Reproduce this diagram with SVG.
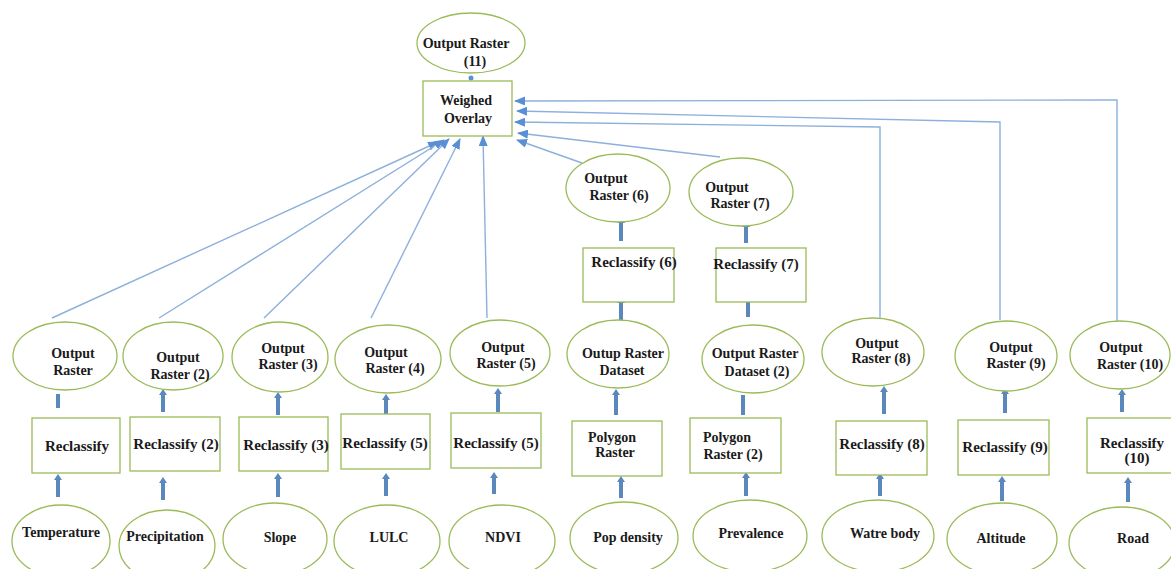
<svg xmlns="http://www.w3.org/2000/svg" width="1171" height="569" viewBox="0 0 1171 569">
<defs>
<style>
.n{fill:#ffffff;stroke:#9bbb59;stroke-width:1.3}
.t{font-family:"Liberation Serif","Times New Roman",serif;font-weight:bold;font-size:14px;fill:#1a1a1a;text-anchor:middle}
.r{font-size:15px}
.c{fill:none;stroke:#8cb0dc;stroke-width:1.4}
.a{stroke:#5b88bc;stroke-width:4;fill:none}
</style>
<marker id="ah" markerUnits="userSpaceOnUse" markerWidth="11" markerHeight="9" refX="10" refY="4.5" orient="auto" viewBox="0 0 11 9">
<path d="M0,0 L11,4.5 L0,9 z" fill="#5b8fd3"/>
</marker>
<marker id="sh" markerUnits="userSpaceOnUse" markerWidth="6" markerHeight="8" refX="2" refY="4" orient="auto" viewBox="0 0 6 8">
<path d="M0,0 L6,4 L0,8 z" fill="#5b88bc"/>
</marker>
</defs>
<rect width="1171" height="569" fill="#ffffff"/>

<g id="connectors">
<line class="c" x1="52" y1="318" x2="438" y2="142" marker-end="url(#ah)"/>
<line class="c" x1="159" y1="318" x2="444" y2="140" marker-end="url(#ah)"/>
<line class="c" x1="264" y1="318" x2="449" y2="139" marker-end="url(#ah)"/>
<line class="c" x1="371" y1="318" x2="460" y2="139" marker-end="url(#ah)"/>
<line class="c" x1="487" y1="318" x2="483" y2="136" marker-end="url(#ah)"/>
<line class="c" x1="582" y1="163" x2="517" y2="140" marker-end="url(#ah)"/>
<line class="c" x1="720" y1="157" x2="518" y2="133" marker-end="url(#ah)"/>
<polyline class="c" points="880,320 880,127 515,122" marker-end="url(#ah)"/>
<polyline class="c" points="1000,320 1000,122 517,111" marker-end="url(#ah)"/>
<polyline class="c" points="1117,322 1117,100 515,101" marker-end="url(#ah)"/>
<circle cx="471" cy="78" r="2.5" fill="#5b8fd3"/>
<line class="a" x1="58" y1="408" x2="58" y2="394"/>
<line class="a" x1="163" y1="412" x2="163" y2="393" marker-end="url(#sh)"/>
<line class="a" x1="278" y1="415" x2="278" y2="396" marker-end="url(#sh)"/>
<line class="a" x1="386" y1="418" x2="386" y2="398" marker-end="url(#sh)"/>
<line class="a" x1="498" y1="412" x2="498" y2="392" marker-end="url(#sh)"/>
<line class="a" x1="616" y1="415" x2="616" y2="393" marker-end="url(#sh)"/>
<line class="a" x1="743" y1="415" x2="743" y2="395"/>
<line class="a" x1="884" y1="414" x2="884" y2="390" marker-end="url(#sh)"/>
<line class="a" x1="1005" y1="413" x2="1005" y2="392" marker-end="url(#sh)"/>
<line class="a" x1="1122" y1="412" x2="1122" y2="393" marker-end="url(#sh)"/>
<line class="a" x1="58" y1="497" x2="58" y2="478" marker-end="url(#sh)"/>
<line class="a" x1="163" y1="500" x2="163" y2="481" marker-end="url(#sh)"/>
<line class="a" x1="278" y1="497" x2="278" y2="477" marker-end="url(#sh)"/>
<line class="a" x1="386" y1="496" x2="386" y2="477" marker-end="url(#sh)"/>
<line class="a" x1="494" y1="494" x2="494" y2="476" marker-end="url(#sh)"/>
<line class="a" x1="621" y1="498" x2="621" y2="480" marker-end="url(#sh)"/>
<line class="a" x1="746" y1="496" x2="746" y2="476" marker-end="url(#sh)"/>
<line class="a" x1="880" y1="496" x2="880" y2="477" marker-end="url(#sh)"/>
<line class="a" x1="1002" y1="501" x2="1002" y2="480" marker-end="url(#sh)"/>
<line class="a" x1="1128" y1="502" x2="1128" y2="481" marker-end="url(#sh)"/>
<line class="a" x1="621" y1="320" x2="621" y2="301" marker-end="url(#sh)"/>
<line class="a" x1="748" y1="317" x2="748" y2="298" marker-end="url(#sh)"/>
<line class="a" x1="621" y1="241" x2="621" y2="221" marker-end="url(#sh)"/>
<line class="a" x1="746" y1="243" x2="746" y2="225" marker-end="url(#sh)"/>
</g>

<g id="output11"><ellipse class="n" cx="471" cy="43" rx="54" ry="30"/><text class="t" x="466" y="48">Output Raster</text><text class="t" x="475" y="66">(11)</text></g>
<g id="weighed"><rect class="n" x="423" y="81" width="89" height="55"/><text class="t" x="466" y="105">Weighed</text><text class="t" x="468" y="123">Overlay</text></g>

<g id="out6"><ellipse class="n" cx="618" cy="188" rx="52" ry="34"/><text class="t" x="606" y="183">Output</text><text class="t" x="619" y="200">Raster (6)</text></g>
<g id="out7"><ellipse class="n" cx="741" cy="192" rx="52" ry="34"/><text class="t" x="727" y="192">Output</text><text class="t" x="740" y="208">Raster (7)</text></g>
<g id="rec6"><rect class="n" x="583" y="248" width="91" height="54"/><text class="t r" x="634" y="267">Reclassify (6)</text></g>
<g id="rec7"><rect class="n" x="716" y="248" width="90" height="54"/><text class="t r" x="756" y="269">Reclassify (7)</text></g>

<g id="out1"><ellipse class="n" cx="65" cy="356" rx="52" ry="34"/><text class="t" x="73" y="358">Output</text><text class="t" x="73" y="375">Raster</text></g>
<g id="out2"><ellipse class="n" cx="173" cy="356" rx="50" ry="34"/><text class="t" x="178" y="362">Output</text><text class="t" x="180" y="379">Raster (2)</text></g>
<g id="out3"><ellipse class="n" cx="280" cy="357" rx="48" ry="35"/><text class="t" x="283" y="353">Output</text><text class="t" x="288" y="369">Raster (3)</text></g>
<g id="out4"><ellipse class="n" cx="388" cy="359" rx="53" ry="34"/><text class="t" x="386" y="357">Output</text><text class="t" x="395" y="373">Raster (4)</text></g>
<g id="out5"><ellipse class="n" cx="500" cy="353" rx="50" ry="33"/><text class="t" x="503" y="352">Output</text><text class="t" x="506" y="368">Raster (5)</text></g>
<g id="outds1"><ellipse class="n" cx="618" cy="354" rx="51" ry="34"/><text class="t" x="623" y="358">Outup Raster</text><text class="t" x="622" y="375">Dataset</text></g>
<g id="outds2"><ellipse class="n" cx="753" cy="359" rx="51" ry="34"/><text class="t" x="755" y="358">Output Raster</text><text class="t" x="757" y="376">Dataset (2)</text></g>
<g id="out8"><ellipse class="n" cx="873" cy="352" rx="51" ry="34"/><text class="t" x="877" y="348">Output</text><text class="t" x="881" y="363">Raster (8)</text></g>
<g id="out9"><ellipse class="n" cx="1006" cy="356" rx="51" ry="35"/><text class="t" x="1011" y="352">Output</text><text class="t" x="1016" y="368">Raster (9)</text></g>
<g id="out10"><ellipse class="n" cx="1120" cy="355" rx="50" ry="34"/><text class="t" x="1121" y="352">Output</text><text class="t" x="1130" y="369">Raster (10)</text></g>

<g id="rec1"><rect class="n" x="32" y="418" width="88" height="55"/><text class="t r" x="77" y="451">Reclassify</text></g>
<g id="rec2"><rect class="n" x="130" y="417" width="90" height="54"/><text class="t r" x="176" y="449">Reclassify (2)</text></g>
<g id="rec3"><rect class="n" x="239" y="417" width="89" height="54"/><text class="t r" x="286" y="450">Reclassify (3)</text></g>
<g id="rec4"><rect class="n" x="341" y="414" width="89" height="55"/><text class="t r" x="385" y="448">Reclassify (5)</text></g>
<g id="rec5"><rect class="n" x="451" y="413" width="90" height="55"/><text class="t r" x="496" y="448">Reclassify (5)</text></g>
<g id="poly1"><rect class="n" x="572" y="421" width="90" height="55"/><text class="t" x="612" y="442">Polygon</text><text class="t" x="615" y="457">Raster</text></g>
<g id="poly2"><rect class="n" x="690" y="418" width="91" height="55"/><text class="t" x="727" y="442">Polygon</text><text class="t" x="733" y="459">Raster (2)</text></g>
<g id="rec8"><rect class="n" x="836" y="421" width="91" height="54"/><text class="t r" x="882" y="449">Reclassify (8)</text></g>
<g id="rec9"><rect class="n" x="958" y="420" width="91" height="55"/><text class="t r" x="1005" y="452">Reclassify (9)</text></g>
<g id="rec10"><rect class="n" x="1087" y="418" width="100" height="55"/><text class="t r" x="1132" y="448">Reclassify</text><text class="t r" x="1137" y="463">(10)</text></g>

<g id="temperature"><ellipse class="n" cx="61" cy="541" rx="49" ry="36"/><text class="t" x="61" y="537">Temperature</text></g>
<g id="precipitation"><ellipse class="n" cx="167" cy="546" rx="48" ry="36"/><text class="t" x="165" y="541">Precipitation</text></g>
<g id="slope"><ellipse class="n" cx="275" cy="539" rx="52" ry="36"/><text class="t" x="280" y="542">Slope</text></g>
<g id="lulc"><ellipse class="n" cx="387" cy="541" rx="53" ry="36"/><text class="t" x="389" y="542">LULC</text></g>
<g id="ndvi"><ellipse class="n" cx="502" cy="541" rx="53" ry="36"/><text class="t" x="503" y="542">NDVI</text></g>
<g id="popdensity"><ellipse class="n" cx="624" cy="538" rx="54" ry="36"/><text class="t" x="628" y="542">Pop density</text></g>
<g id="prevalence"><ellipse class="n" cx="750" cy="536" rx="57" ry="36"/><text class="t" x="751" y="538">Prevalence</text></g>
<g id="waterbody"><ellipse class="n" cx="878" cy="536" rx="56" ry="36"/><text class="t" x="885" y="538">Watre body</text></g>
<g id="altitude"><ellipse class="n" cx="1002" cy="539" rx="55" ry="36"/><text class="t" x="1001" y="543">Altitude</text></g>
<g id="road"><ellipse class="n" cx="1122" cy="543" rx="53" ry="36"/><text class="t" x="1133" y="543">Road</text></g>
</svg>
